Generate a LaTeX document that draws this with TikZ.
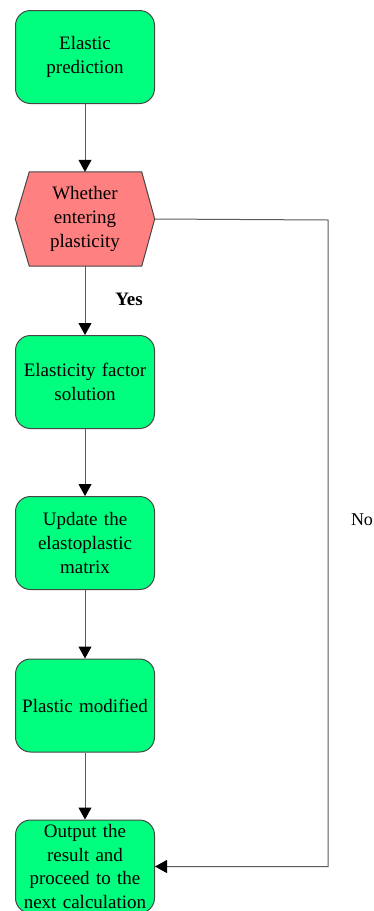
\documentclass[tikz,border=0pt]{standalone}
\usepackage{fontspec}
\setmainfont{Liberation Serif}
\usetikzlibrary{arrows.meta,backgrounds}
\definecolor{boxgreen}{RGB}{0,255,127}
\definecolor{hexred}{RGB}{255,128,128}
\definecolor{linegray}{RGB}{90,90,90}
\definecolor{bordergray}{RGB}{70,70,70}
\begin{document}
\begin{tikzpicture}[x=1pt,y=-1pt,
  stepbox/.style={draw=bordergray, line width=1pt, fill=boxgreen, rounded corners=15pt,
    minimum width=139pt, minimum height=93pt, inner sep=0pt, align=center,
    text width=139pt, font=\fontsize{19}{23.7}\selectfont},
  hexbox/.style={minimum width=139pt, minimum height=94pt, inner sep=0pt, align=center,
    text width=139pt, font=\fontsize{19}{23.7}\selectfont},
  conn/.style={draw=linegray, line width=1pt, -{Triangle[width=13pt,length=12pt,color=black]}},
  lbl/.style={inner sep=0pt}]
\useasboundingbox (0,0) rectangle (373,911);
\node[stepbox] (b1) at (85,57) {Elastic\\prediction};
\node[hexbox] (hex) at (85,219) {Whether\\entering\\plasticity};
\begin{scope}[on background layer]
\fill[hexred, draw=bordergray, line width=1pt]
  (hex.west) -- ([xshift=14pt]hex.north west) -- ([xshift=-13pt]hex.north east)
  -- (hex.east) -- ([xshift=-13pt]hex.south east) -- ([xshift=14pt]hex.south west) -- cycle;
\end{scope}
\node[stepbox] (b2) at (85,382) {Elasticity factor\\solution};
\node[stepbox] (b3) at (85,543) {Update the\\elastoplastic\\matrix};
\node[stepbox] (b4) at (85,705.5) {Plastic modified};
\node[stepbox] (b5) at (85,866.5) {Output the\\result and\\proceed to the\\next calculation};
\coordinate (nocorner) at (328,220);
\draw[conn] (b1) -- (hex);
\draw[conn] (hex) -- (b2);
\draw[conn] (b2) -- (b3);
\draw[conn] (b3) -- (b4);
\draw[conn] (b4) -- (b5);
\draw[conn] (hex.east) -- (nocorner) |- (b5.east);
\node[lbl, font=\fontsize{19}{22}\selectfont\bfseries] (yes) at (129,299) {Yes};
\node[lbl, font=\fontsize{18}{21}\selectfont] (no) at (362,520) {No};
\end{tikzpicture}
\end{document}
